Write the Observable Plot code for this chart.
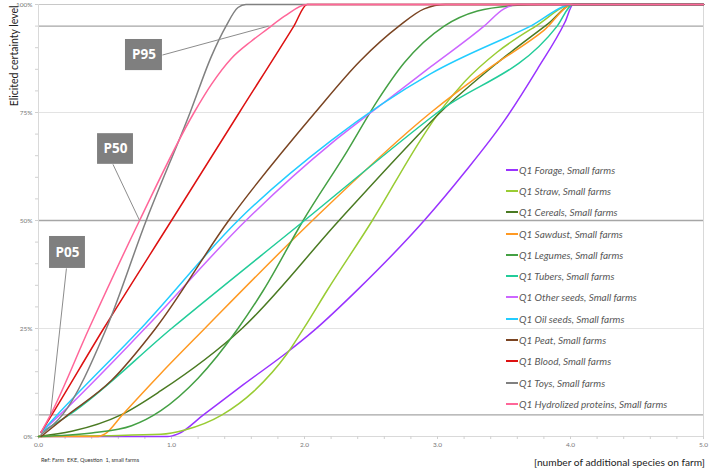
<!DOCTYPE html>
<html>
<head>
<meta charset="utf-8">
<script src="https://cdn.jsdelivr.net/npm/d3@7"></script>
<script src="https://cdn.jsdelivr.net/npm/@observablehq/plot@0.6"></script>
<style>
  body { margin: 0; background: #fff; }
  #wrap { position: relative; width: 709px; height: 472px; font-family: Lato, "Open Sans", sans-serif; }
  #legend { position: absolute; left: 506px; top: 159px; }
  .item { height: 21.3px; display: flex; align-items: center; font-style: italic; font-size: 10px; color: #595959; white-space: nowrap; }
  .sw { width: 12px; height: 2px; margin-right: 1px; }
  #xtitle { position: absolute; right: 4px; top: 456px; font-size: 10.2px; color: #222; }
  #caption { position: absolute; left: 41px; top: 456px; font-size: 5.6px; color: #333; }
</style>
</head>
<body>
<div id="wrap"><div id="legend"></div><div id="xtitle">[number of additional species on farm]</div><div id="caption">Ref: Farm&nbsp; EKE, Question&nbsp; 1, small farms</div></div>
<script>
// Series names (legend order) and colours
const seriesNames = [
  "Q1 Forage, Small farms",
  "Q1 Straw, Small farms",
  "Q1 Cereals, Small farms",
  "Q1 Sawdust, Small farms",
  "Q1 Legumes, Small farms",
  "Q1 Tubers, Small farms",
  "Q1 Other seeds, Small farms",
  "Q1 Oil seeds, Small farms",
  "Q1 Peat, Small farms",
  "Q1 Blood, Small farms",
  "Q1 Toys, Small farms",
  "Q1 Hydrolized proteins, Small farms"
];
const seriesColors = ["#9933ff","#99cc33","#4a7a22","#ff9922","#44a044","#22cc99","#cc66ff","#22ccff","#7a4422","#dd1111","#808080","#ff6699"];

// [x (additional species), y (certainty %)]
const forage = [[0,0],[0.97,0],[1.05,0.6],[1.24,5],[1.54,12],[1.87,19.5],[2.07,24.5],[2.4,34],[2.9,50],[3.2,61],[3.5,73],[3.75,85],[3.96,96],[4.02,100],[5,100]];
const straw = [[0,0],[0.5,0.2],[0.92,0.5],[1.1,1.5],[1.38,5],[1.62,10.5],[1.87,19.2],[2.0,25.3],[2.17,33.8],[2.51,50],[2.87,68.5],[3.0,74.5],[3.2,82],[3.45,89],[3.74,95],[4.02,100],[5,100]];
const cereals = [[0,0],[0.25,1.2],[0.62,5],[0.92,10.6],[1.53,25],[2.26,50],[2.8,68],[3.02,75],[3.45,86.5],[3.83,95.5],[4.02,100],[5,100]];
const sawdust = [[0,0],[0.45,0],[0.5,0.6],[0.63,5],[0.92,14.6],[1.25,25],[2.06,50],[2.95,75],[3.4,85.5],[3.8,94],[4.02,100],[5,100]];
const legumes = [[0,0],[0.4,0.8],[0.7,2.5],[0.92,6],[1.2,13.5],[1.5,25],[1.69,33.8],[1.99,50],[2.32,66],[2.55,77.8],[2.75,86.5],[3.05,95],[3.3,98.5],[3.6,99.8],[3.8,100],[5,100]];
const tubers = [[0.02,1],[0.23,5],[1.0,25],[2.0,50],[3.0,75],[3.9,95],[4.02,100],[5,100]];
const otherSeeds = [[0.02,1],[0.16,5],[0.8,25],[1.56,50],[2.2,67.8],[2.5,75],[2.95,85.6],[3.35,95],[3.5,99],[3.6,100],[5,100]];
const oilSeeds = [[0.02,1],[0.14,5],[0.8,26],[1.5,50],[2.2,68.5],[2.95,84],[3.7,95],[4.02,100],[5,100]];
const peat = [[0.02,0],[0.2,4.5],[0.55,13],[0.88,25],[1.43,50],[2.08,75],[2.42,87],[2.71,95],[2.9,99],[3.06,100],[5,100]];
const blood = [[0.02,1],[0.1,5],[0.49,25],[1.0,50],[1.51,75],[1.92,95],[2.02,100],[5,100]];
const toys = [[0.02,0.5],[0.18,5],[0.51,25],[0.81,50],[1.14,75],[1.3,88],[1.41,95],[1.5,99.3],[1.56,100],[5,100]];
const hydrolized = [[0.02,1],[0.09,5],[0.38,25],[0.76,50],[1.17,75],[1.3,81.5],[1.45,87.5],[1.6,91.5],[1.72,94.3],[1.85,97.3],[2.02,100],[5,100]];

const seriesValues = [forage, straw, cereals, sawdust, legumes, tubers, otherSeeds, oilSeeds, peat, blood, toys, hydrolized];

// Axis ticks
const xTicks = [0,1,2,3,4,5];
const yTicks = [0,25,50,75,100];

// Percentile annotations: label, box extent, target point on the pink curve
const annLabels = ["P95","P50","P05"];
const annBoxX1 = [0.654,0.444,0.083];
const annBoxX2 = [0.932,0.714,0.353];
const annBoxY1 = [84.7,63.0,38.9];
const annBoxY2 = [91.9,70.1,46.3];
const annFromX = [0.932,0.56,0.21];
const annFromY = [88.3,63.0,38.9];
const annToX = [1.73,0.76,0.09];
const annToY = [95,50,5];

const rows = seriesNames.flatMap((s, i) => seriesValues[i].map(([x, y]) => ({series: s, x, y})));
const ann = annLabels.map((label, i) => ({label, x1: annBoxX1[i], x2: annBoxX2[i], y1: annBoxY1[i], y2: annBoxY2[i],
  fx: annFromX[i], fy: annFromY[i], tx: annToX[i], ty: annToY[i]}));

const chart = Plot.plot({
  width: 709, height: 472,
  marginLeft: 38, marginRight: 6, marginTop: 4, marginBottom: 36,
  style: {fontFamily: "Lato, 'Open Sans', sans-serif", background: "#fff"},
  x: {domain: [0, 5]},
  y: {domain: [0, 100]},
  color: {domain: seriesNames, range: seriesColors},
  marks: [
    Plot.ruleY([25, 75], {stroke: "#e3e3e3", strokeWidth: 1}),
    Plot.ruleY([100], {stroke: "#c8c8c8", strokeWidth: 1}),
    Plot.ruleY([95, 50, 5], {stroke: "#a6a6a6", strokeWidth: 1.3}),
    Plot.ruleY([0], {stroke: "#d9d9d9"}),
    Plot.ruleX([0, 5], {stroke: "#d9d9d9"}),
    Plot.axisX({ticks: d3.range(0, 5.01, 0.2), tickSize: 3, text: null, stroke: "#d0d0d0"}),
    Plot.axisY({ticks: d3.range(0, 101, 5), tickSize: 3, text: null, stroke: "#d0d0d0"}),
    Plot.axisX({ticks: xTicks, tickFormat: d3.format(".1f"), tickSize: 0, tickPadding: 6, fontSize: 6.5, color: "#777", label: null}),
    Plot.axisY({ticks: yTicks, tickFormat: d => d + "%", tickSize: 0, tickPadding: 6, fontSize: 6.5, color: "#777", label: null}),
    Plot.line(rows, {x: "x", y: "y", z: "series", stroke: "series", strokeWidth: 1.5, curve: "monotone-x"}),
    Plot.link(ann, {x1: "fx", y1: "fy", x2: "tx", y2: "ty", stroke: "#8c8c8c", strokeWidth: 1}),
    Plot.rect(ann, {x1: "x1", x2: "x2", y1: "y1", y2: "y2", fill: "#7f7f7f"}),
    Plot.text(ann, {x: d => (d.x1 + d.x2) / 2, y: d => (d.y1 + d.y2) / 2, text: "label", fill: "white", fontSize: 13.5, fontWeight: "bold", fontFamily: "'Open Sans', sans-serif"}),
    Plot.text(["Elicited certainty level"], {frameAnchor: "top-left", rotate: -90, textAnchor: "end", dx: -28, dy: 1, fontSize: 10.5, fill: "#222"})
  ]
});
const wrap = document.getElementById("wrap");
wrap.insertBefore(chart, wrap.firstChild);

const legend = document.getElementById("legend");
seriesNames.forEach((s, i) => {
  const it = document.createElement("div");
  it.className = "item";
  const sw = document.createElement("span");
  sw.className = "sw";
  sw.style.background = seriesColors[i];
  it.appendChild(sw);
  it.appendChild(document.createTextNode(s));
  legend.appendChild(it);
});
</script>
</body>
</html>
